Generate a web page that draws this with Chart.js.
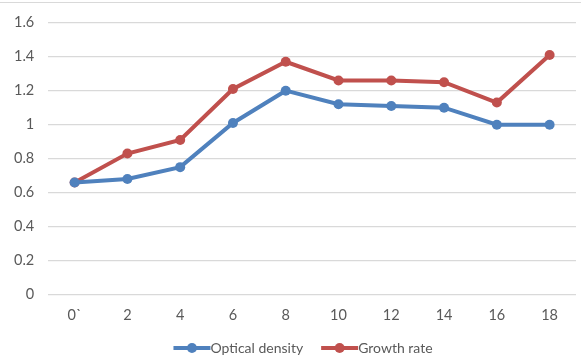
<!DOCTYPE html>
<html>
<head>
<meta charset="utf-8">
<script src="https://cdn.jsdelivr.net/npm/chart.js@4/dist/chart.umd.min.js"></script>
<style>
  html, body { margin: 0; padding: 0; background: #fff; }
  #wrap { position: relative; width: 581px; height: 355px; }
  #topline { position: absolute; left: 0; top: 2px; width: 581px; height: 1px; background: #d9d9d9; }
</style>
</head>
<body>
<div id="wrap">
  <div id="topline"></div>
  <canvas id="chart" width="581" height="355"></canvas>
</div>
<script>
var categories = ['0`', '2', '4', '6', '8', '10', '12', '14', '16', '18'];
var opticalDensity = [0.66, 0.68, 0.75, 1.01, 1.2, 1.12, 1.11, 1.1, 1.0, 1.0];
var growthRate = [0.66, 0.83, 0.91, 1.21, 1.37, 1.26, 1.26, 1.25, 1.13, 1.41];
var seriesNames = ['Optical density', 'Growth rate'];
var seriesColors = ['#4f81bd', '#c0504d'];

var textFont = { family: 'Lato', size: 14.5 };

// bottom legend: line + dot glyph, text right after it
var bottomLegend = {
	id: 'bottomLegend',
	afterDraw: function (ch) {
		var ctx = ch.ctx;
		var glyphW = 37, gap = 18, cy = 348;
		ctx.save();
		ctx.font = '14px Lato';
		ctx.textBaseline = 'middle';
		var widths = ch.data.datasets.map(function (ds) { return ctx.measureText(ds.label).width; });
		var total = 0;
		widths.forEach(function (w, i) { total += glyphW + w + (i ? gap : 0); });
		var x = 303 - total / 2;
		ch.data.datasets.forEach(function (ds, i) {
			ctx.strokeStyle = ds.borderColor;
			ctx.fillStyle = ds.borderColor;
			ctx.lineWidth = 4;
			ctx.beginPath();
			ctx.moveTo(x, cy);
			ctx.lineTo(x + glyphW, cy);
			ctx.stroke();
			ctx.beginPath();
			ctx.arc(x + glyphW / 2, cy, 5, 0, Math.PI * 2);
			ctx.fill();
			ctx.fillStyle = '#595959';
			ctx.fillText(ds.label, x + glyphW, cy);
			x += glyphW + widths[i] + gap;
		});
		ctx.restore();
	}
};

function makeSet(i, values) {
	return {
		label: seriesNames[i],
		data: values,
		borderColor: seriesColors[i],
		backgroundColor: seriesColors[i],
		borderWidth: 4,
		pointRadius: 5,
		pointHoverRadius: 5,
		pointBorderWidth: 0,
		tension: 0
	};
}

var chart = new Chart(document.getElementById('chart'), {
	type: 'line',
	data: {
		labels: categories,
		datasets: [makeSet(0, opticalDensity), makeSet(1, growthRate)]
	},
	plugins: [bottomLegend],
	options: {
		responsive: false,
		animation: false,
		layout: { padding: { top: 11, right: 0, left: 0, bottom: 19 } },
		plugins: {
			tooltip: { enabled: false },
			legend: { display: false }
		},
		scales: {
			x: {
				offset: true,
				grid: { display: false, drawTicks: false },
				border: { display: false },
				ticks: {
					color: '#595959',
					font: textFont,
					padding: 12,
					maxRotation: 0
				}
			},
			y: {
				min: 0,
				max: 1.6,
				border: { display: false },
				grid: { color: '#d9d9d9', lineWidth: 1.3, drawTicks: false },
				ticks: {
					stepSize: 0.2,
					color: '#595959',
					font: textFont,
					padding: 14,
					callback: function (v) { return String(Math.round(v * 10) / 10); }
				}
			}
		}
	}
});
</script>
</body>
</html>
